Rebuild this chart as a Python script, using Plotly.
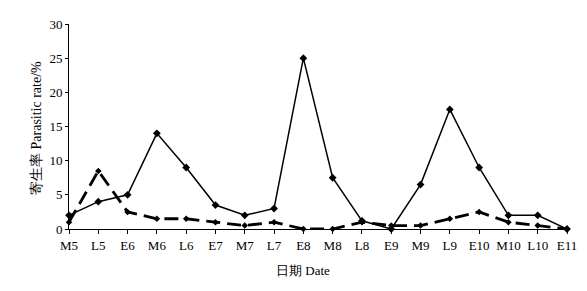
import plotly.graph_objects as go

dates = ["M5", "L5", "E6", "M6", "L6", "E7", "M7", "L7", "E8", "M8", "L8",
         "E9", "M9", "L9", "E10", "M10", "L10", "E11"]
solid_vals = [2, 4, 5, 14, 9, 3.5, 2, 3, 25, 7.5, 1.2, 0, 6.5, 17.5, 9, 2, 2, 0]
dashed_vals = [1, 8.5, 2.5, 1.5, 1.5, 1, 0.5, 1, 0, 0, 1, 0.5, 0.5, 1.5, 2.5, 1, 0.5, 0]
y_ticks = [0, 5, 10, 15, 20, 25, 30]

# page body has an 8px default margin; compensate so the figure lands at the target pixels
OFF = 8
W, H = 587 - 2 * OFF, 291 - 2 * OFF
L, T = 69 - OFF, 24 - OFF
R = (587 - OFF) - 567
B = (291 - OFF) - 229
plot_w = W - L - R
plot_h = H - T - B

fig = go.Figure()
fig.add_trace(go.Scatter(x=list(range(len(dates))), y=dashed_vals, mode="lines+markers",
                         line=dict(color="black", width=2.8, dash="14px,7px"),
                         marker=dict(symbol="diamond", size=5, color="black"),
                         cliponaxis=False, showlegend=False))
fig.add_trace(go.Scatter(x=list(range(len(dates))), y=solid_vals, mode="lines+markers",
                         line=dict(color="black", width=1.5),
                         marker=dict(symbol="diamond", size=6, color="black"),
                         cliponaxis=False, showlegend=False))

font = dict(family="Liberation Serif, Times New Roman, serif", size=13, color="black")
fig.update_layout(
    width=W, height=H,
    margin=dict(l=L, r=R, t=T, b=B),
    paper_bgcolor="white", plot_bgcolor="white",
    font=font,
    xaxis=dict(range=[0, 17], tickmode="array", tickvals=list(range(len(dates))),
               ticktext=dates, showline=True, linecolor="black", linewidth=1,
               ticks="outside", ticklen=4, tickcolor="black", showgrid=False,
               zeroline=False, tickfont=font, automargin=False),
    yaxis=dict(range=[0, 30], tickvals=y_ticks, showline=True, linecolor="black",
               linewidth=1, ticks="outside", ticklen=3, tickcolor="black",
               showgrid=False, zeroline=False, tickfont=font, automargin=False),
    annotations=[
        dict(text="寄生率 Parasitic rate/%", xref="paper", yref="paper",
             x=(36 - 69) / plot_w, y=(229 - 128) / plot_h,
             xanchor="center", yanchor="middle",
             showarrow=False, textangle=-90, font=dict(font, size=14)),
        dict(text="日期 Date", xref="paper", yref="paper",
             x=(303 - 69) / plot_w, y=-(270 - 229) / plot_h,
             xanchor="center", yanchor="middle",
             showarrow=False, font=font),
    ],
)

fig.write_html("out.html")
